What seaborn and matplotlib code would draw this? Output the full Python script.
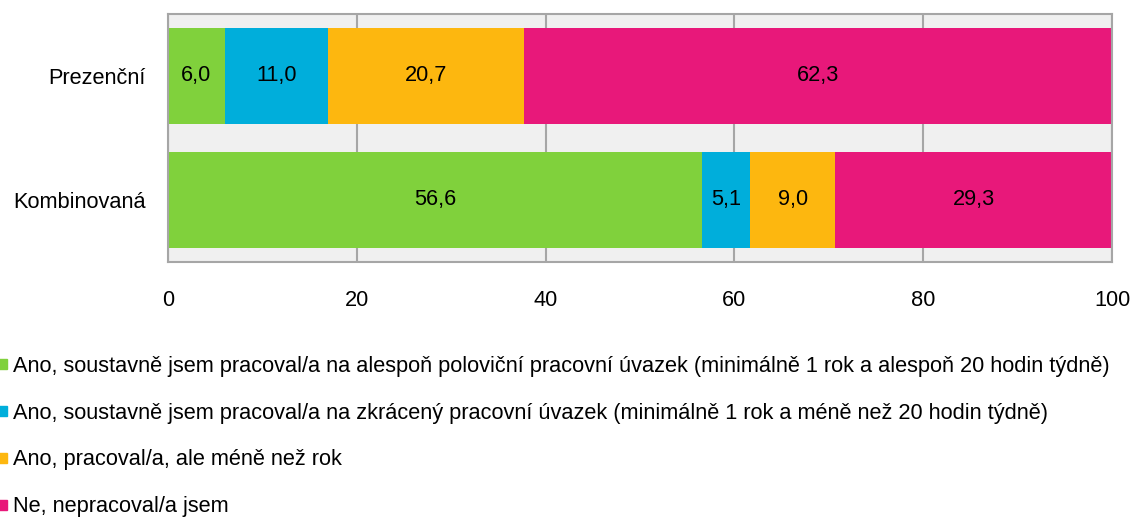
import pandas as pd
import matplotlib.pyplot as plt
import seaborn as sns
from matplotlib.lines import Line2D

# data
kategorie = ['Prezenční', 'Kombinovaná']
odpovedi = [
    'Ano, soustavně jsem pracoval/a na alespoň poloviční pracovní úvazek (minimálně 1 rok a alespoň 20 hodin týdně)',
    'Ano, soustavně jsem pracoval/a na zkrácený pracovní úvazek (minimálně 1 rok a méně než 20 hodin týdně)',
    'Ano, pracoval/a, ale méně než rok',
    'Ne, nepracoval/a jsem',
]
polovicni = [6.0, 56.6]
zkraceny = [11.0, 5.1]
mene_nez_rok = [20.7, 9.0]
nepracoval = [62.3, 29.3]
barvy = ['#80D13C', '#00AEDB', '#FDB70F', '#E8187A']

sns.set_style('white')
plt.rcParams['font.family'] = ['Liberation Sans Narrow', 'Liberation Sans', 'DejaVu Sans']
plt.rcParams['text.color'] = 'black'
plt.rcParams['xtick.color'] = 'black'
plt.rcParams['ytick.color'] = 'black'
fs = 15.7

serie = [polovicni, zkraceny, mene_nez_rok, nepracoval]
df = pd.DataFrame({'kategorie': kategorie})
zacatky = []
kum = [0.0] * len(kategorie)
for i, s in enumerate(serie):
    zacatky.append(list(kum))
    kum = [k + v for k, v in zip(kum, s)]
    df['cum%d' % i] = kum

fig = plt.figure(figsize=(11.34, 5.28), dpi=100)
ax = fig.add_axes([168 / 1134, 1 - 262 / 528, (1112 - 168) / 1134, 248 / 528])
ax.set_facecolor('#F0F0F0')

# stacked bars drawn as cumulative sums, last one first
for i in reversed(range(len(serie))):
    sns.barplot(data=df, x='cum%d' % i, y='kategorie', orient='h', color=barvy[i],
                saturation=1, width=0.77, linewidth=0, ax=ax, zorder=2)

for i, s in enumerate(serie):
    for j, v in enumerate(s):
        ax.text(zacatky[i][j] + v / 2, j, ('%.1f' % v).replace('.', ','),
                ha='center', va='center', fontsize=fs, color='black', zorder=3)

ax.set_xlim(0, 100)
ax.set_ylim(1.5, -0.5)
ax.set_xticks([0, 20, 40, 60, 80, 100])
ax.grid(axis='x', color='#A6A6A6', linewidth=1.5, zorder=1)
ax.set_axisbelow(True)
for sp in ax.spines.values():
    sp.set_color('#A6A6A6')
    sp.set_linewidth(1.5)
ax.set_xlabel('')
ax.set_ylabel('')
ax.tick_params(axis='both', length=0, labelsize=fs, labelcolor='black')
ax.tick_params(axis='x', pad=20)
ax.tick_params(axis='y', pad=16)

handles = [Line2D([], [], marker='s', linestyle='none', markersize=6.5,
                  markerfacecolor=c, markeredgecolor=c) for c in barvy]
leg = fig.legend(handles, odpovedi, loc='upper left', bbox_to_anchor=(-0.003, 1 - 356 / 528),
                 frameon=False, fontsize=fs, handlelength=0.5, handletextpad=0.25,
                 labelspacing=1.18, borderpad=0, borderaxespad=0)
for t in leg.get_texts():
    t.set_color('black')

fig.savefig('out.png', dpi=100)
